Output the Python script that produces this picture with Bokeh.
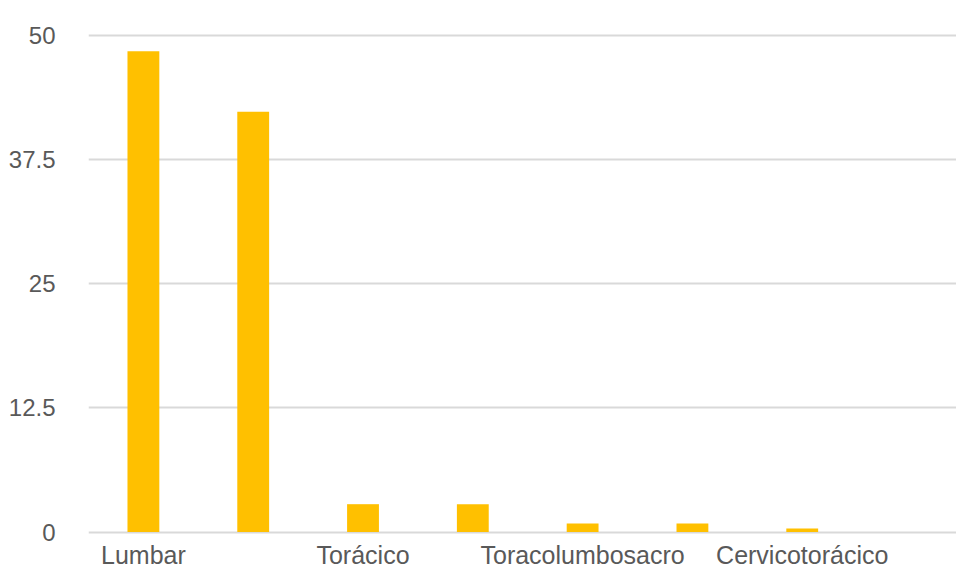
from bokeh.plotting import figure
from bokeh.models import Range1d, FixedTicker, ColumnDataSource
from bokeh.core.properties import value
from bokeh.embed import file_html
from bokeh.resources import INLINE

# Visible category labels (every second label is hidden in the original chart)
tick_labels = ["Lumbar", "", "Torácico", "", "Toracolumbosacro", "", "Cervicotorácico", ""]
values = [48.4, 42.3, 2.8, 2.8, 0.85, 0.85, 0.35, 0.0]
y_ticks = [0, 12.5, 25, 37.5, 50]
y_tick_text = ["0", "12.5", "25", "37.5", "50"]

positions = list(range(len(values)))
src = ColumnDataSource(dict(x=positions, top=values, label=tick_labels,
                            base=[0] * len(values)))

p = figure(width=956, height=569, output_backend="svg", toolbar_location=None,
           x_range=Range1d(-0.5, 7.405), y_range=Range1d(-3.774, 52.49),
           min_border_left=88, min_border_right=0, min_border_top=10, min_border_bottom=0)

p.vbar(x="x", top="top", bottom=0, width=0.29, source=src,
       fill_color="#FFC000", line_color=None)

# category labels under the baseline
p.text(x="x", y="base", text="label", source=src, text_align="center",
       text_baseline="middle", y_offset=23,
       text_font=value("Liberation Sans"), text_font_size="25px", text_color="#595959")

p.outline_line_color = None
p.background_fill_color = "white"
p.border_fill_color = "white"

p.xaxis.visible = False

# y axis
p.yaxis.ticker = FixedTicker(ticks=y_ticks)
p.yaxis.major_label_overrides = {t: s for t, s in zip(y_ticks, y_tick_text)}
p.yaxis.major_tick_line_color = None
p.yaxis.minor_tick_line_color = None
p.yaxis.axis_line_color = None
p.yaxis.major_label_text_font = "Liberation Sans"
p.yaxis.major_label_text_font_size = "24px"
p.yaxis.major_label_text_color = "#595959"
p.yaxis.major_label_standoff = 27

p.xgrid.grid_line_color = None
p.ygrid.grid_line_color = "#d9d9d9"
p.ygrid.grid_line_width = 2

open("out.html", "w").write(file_html(p, INLINE))
